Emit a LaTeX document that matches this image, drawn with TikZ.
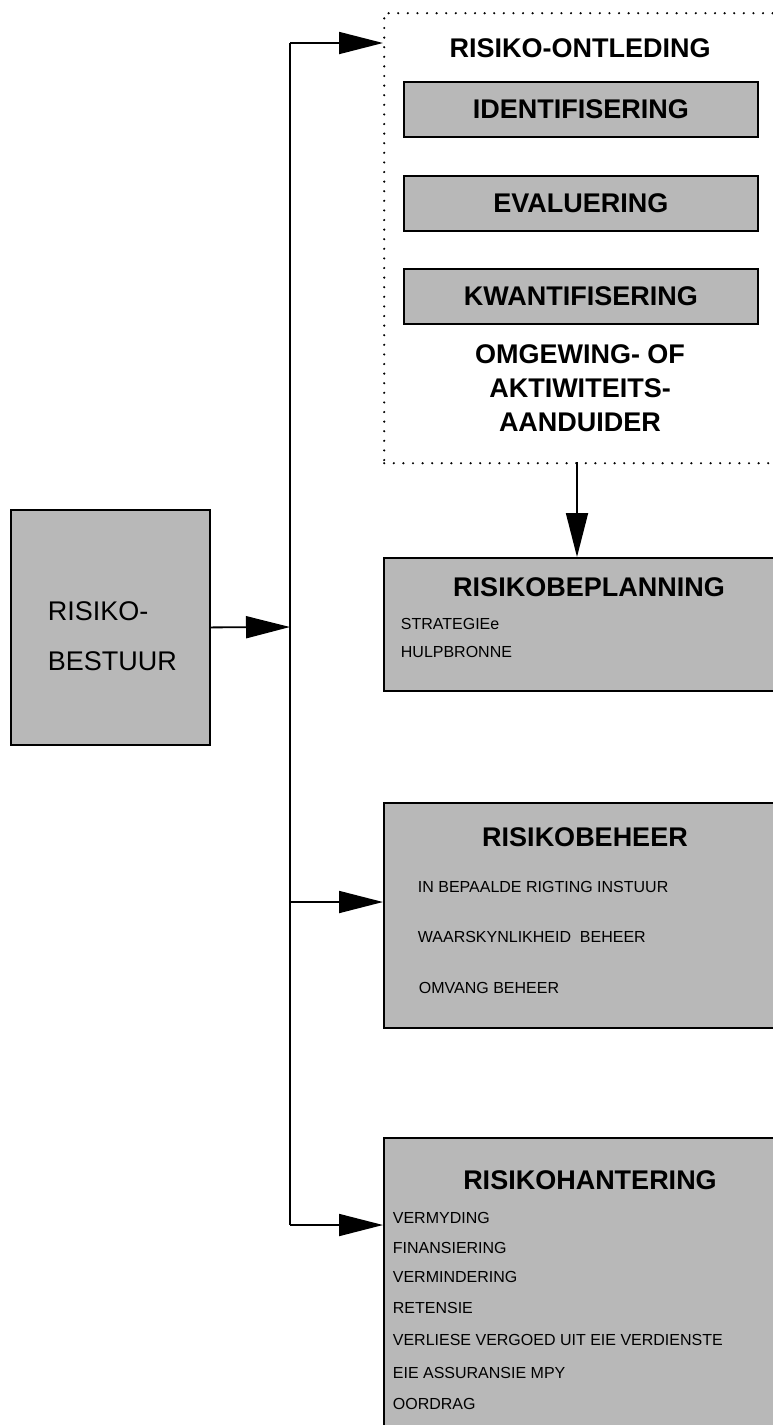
\documentclass[tikz,border=0pt]{standalone}
\usepackage{fontspec}
\setmainfont{Liberation Sans}
\usetikzlibrary{arrows.meta,positioning}

\begin{document}
\begin{tikzpicture}[
		x=1pt,y=-1pt,
		line width=1.8pt,
		>={Triangle[length=44pt,width=22pt]},
		greybox/.style={draw,fill=black!28,anchor=north west,inner sep=0pt},
		subbox/.style={greybox,minimum width=354pt,minimum height=55pt,font=\bfseries\fontsize{27}{30}\selectfont},
		heading/.style={font=\bfseries\fontsize{27}{30}\selectfont,inner sep=0pt},
		entry/.style={font=\fontsize{16}{18}\selectfont,anchor=west,inner sep=0pt}
		]
		\useasboundingbox (0,0) rectangle (773,1425);
		% risiko-ontleding
		\node[draw,line width=2.4pt,line cap=round,dash pattern=on 0pt off 9.6pt,anchor=north west,minimum width=430pt,minimum height=450pt,inner sep=0pt] (ontleding) at (383,12) {};
		\node[heading] (ontledingtitle) at (580,48) {RISIKO-ONTLEDING};
		\node[subbox] (ident) at (403,81) {IDENTIFISERING};
		\node[subbox] (eval) at (403,175) {EVALUERING};
		\node[subbox] (kwant) at (403,268) {KWANTIFISERING};
		\node[heading,align=center,font=\bfseries\fontsize{27}{34}\selectfont] (aanduider) at (580,388) {OMGEWING- OF\\AKTIWITEITS-\\AANDUIDER};
		% risikobestuur
		\node[greybox,minimum width=199pt,minimum height=235pt] (bestuur) at (10,509) {};
		\node[entry,align=left,font=\fontsize{27}{50}\selectfont] (bestuurtext) at (47,636) {RISIKO-\\BESTUUR};
		% risikobeplanning
		\node[greybox,minimum width=400pt,minimum height=133pt] (beplanning) at (383,557) {};
		\node[heading] (beplanningtitle) at (589,587) {RISIKOBEPLANNING};
		\node[entry] (strategie) at (400,624) {STRATEGIEe};
		\node[entry] (hulpbronne) at (400,652) {HULPBRONNE};
		% risikobeheer
		\node[greybox,minimum width=400pt,minimum height=225pt] (beheer) at (383,802) {};
		\node[heading] (beheertitle) at (585,837) {RISIKOBEHEER};
		\node[entry] (rigting) at (417,887) {IN BEPAALDE RIGTING INSTUUR};
		\node[entry] (waarskynlikheid) at (417,937) {WAARSKYNLIKHEID\ \ BEHEER};
		\node[entry] (omvang) at (418,988) {OMVANG BEHEER};
		% risikohantering
		\node[greybox,minimum width=400pt,minimum height=300pt] (hantering) at (383,1137) {};
		\node[heading] (hanteringtitle) at (590,1180) {RISIKOHANTERING};
		\node[entry] (vermyding) at (392,1218) {VERMYDING};
		\node[entry] (finansiering) at (392,1248) {FINANSIERING};
		\node[entry] (vermindering) at (392,1277) {VERMINDERING};
		\node[entry] (retensie) at (392,1308) {RETENSIE};
		\node[entry] (verliese) at (392,1340) {VERLIESE VERGOED UIT EIE VERDIENSTE};
		\node[entry] (assuransie) at (392,1373) {EIE ASSURANSIE MPY};
		\node[entry] (oordrag) at (392,1404) {OORDRAG};
		% connectors
		\coordinate (spinetop) at (290,43);
		\coordinate (spinemid) at (290,627);
		\coordinate (spinebeheer) at (290,902);
		\coordinate (spineend) at (290,1225);
		\coordinate (drop) at (577,462);
		\draw (spinetop) -- (spineend);
		\begin{scope}[->]
		\draw (bestuur.east) -- (spinemid);
		\draw (spinetop) -- (spinetop -| ontleding.west);
		\draw (drop) -- (drop |- beplanning.north);
		\draw (spinebeheer) -- (spinebeheer -| beheer.west);
		\draw (spineend) -- (spineend -| hantering.west);
		\end{scope}
\end{tikzpicture}
\end{document}
